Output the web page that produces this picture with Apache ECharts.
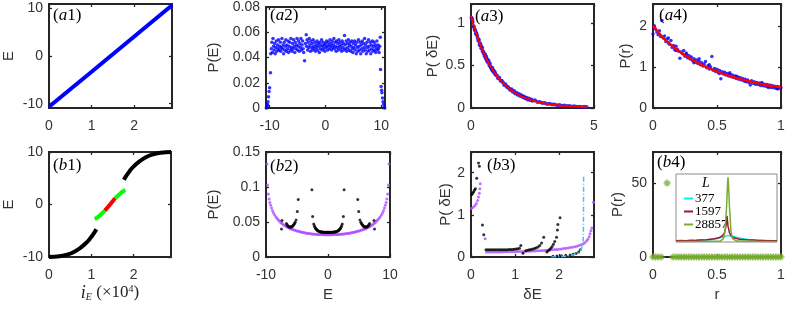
<!DOCTYPE html>
<html><head><meta charset="utf-8">
<script src="https://cdn.jsdelivr.net/npm/echarts@6/dist/echarts.min.js"></script>
<style>html,body{margin:0;padding:0;background:#fff}#c{width:788px;height:312px}</style>
</head><body><div id="c"></div><script>
// ---------- tick labels ----------
const a1XTicks=[0,1,2], a1YTicks=[-10,0,10];
const a2XTicks=[-10,0,10], a2YTicks=[0,0.02,0.04,0.06,0.08];
const a3XTicks=[0,5], a3YTicks=[0,0.5,1];
const a4XTicks=[0,0.5,1], a4YTicks=[0,1,2];
const b1XTicks=[0,1,2], b1YTicks=[-10,0,10];
const b2XTicks=[-10,0,10], b2YTicks=[0,0.05,0.1,0.15];
const b3XTicks=[0,1,2], b3YTicks=[0,1,2];
const b4XTicks=[0,0.5,1], b4YTicks=[0,50];
const insetLegend=['377','1597','28857'];

// ---------- data ----------
const a1Line=[[0,-10.65],[1.0,-3.3],[2.0,4.1],[2.8857,10.65]];
const a2Points=[[-10.6,0.000],[-10.5,0.001],[-10.45,0.002],[-10.4,0.003],[-10.3,0.005],[-10.2,0.009],[-10.1,0.013],[-10.0,0.016],[-9.85,0.028],[-9.8,0.043],[-9.7,0.047],[-9.6,0.052],[-9.5,0.044],[-9.4,0.055],[-9.3,0.049],[-9.2,0.046],[-9.1,0.051],[-9.0,0.043],[-8.9,0.048],[-8.8,0.053],[-8.7,0.045],[-8.6,0.050],[-8.5,0.047],[-8.4,0.054],[-8.3,0.046],[-8.2,0.049],[-8.1,0.052],[-8.0,0.045],[-7.9,0.048],[-7.8,0.055],[-7.7,0.047],[-7.6,0.050],[-7.5,0.043],[-7.4,0.052],[-7.3,0.046],[-7.2,0.049],[-7.1,0.054],[-7.0,0.045],[-6.9,0.050],[-6.8,0.047],[-6.7,0.053],[-6.6,0.044],[-6.5,0.049],[-6.4,0.052],[-6.3,0.046],[-6.2,0.055],[-6.1,0.048],[-6.0,0.045],[-5.9,0.051],[-5.8,0.047],[-5.7,0.054],[-5.6,0.049],[-5.5,0.044],[-5.4,0.052],[-5.3,0.047],[-5.2,0.050],[-5.1,0.055],[-5.0,0.046],[-4.9,0.049],[-4.8,0.053],[-4.7,0.045],[-4.6,0.051],[-4.5,0.048],[-4.4,0.055],[-4.3,0.046],[-4.2,0.050],[-4.1,0.053],[-4.0,0.047],[-3.9,0.044],[-3.75,0.0375],[-3.6,0.051],[-3.45,0.058],[-3.4,0.049],[-3.3,0.054],[-3.2,0.046],[-3.1,0.052],[-3.0,0.048],[-2.9,0.055],[-2.8,0.050],[-2.7,0.045],[-2.6,0.053],[-2.5,0.048],[-2.4,0.051],[-2.3,0.046],[-2.2,0.054],[-2.1,0.049],[-2.0,0.047],[-1.9,0.052],[-1.8,0.045],[-1.7,0.050],[-1.6,0.048],[-1.5,0.053],[-1.4,0.046],[-1.3,0.051],[-1.2,0.049],[-1.1,0.044],[-1.0,0.052],[-0.9,0.047],[-0.8,0.050],[-0.7,0.054],[-0.6,0.046],[-0.5,0.049],[-0.4,0.052],[-0.3,0.047],[-0.2,0.050],[-0.1,0.045],[0.0,0.051],[0.1,0.048],[0.2,0.053],[0.3,0.049],[0.4,0.046],[0.5,0.052],[0.6,0.050],[0.7,0.047],[0.8,0.054],[0.9,0.049],[1.0,0.051],[1.1,0.046],[1.2,0.053],[1.3,0.048],[1.4,0.050],[1.5,0.055],[1.6,0.047],[1.7,0.052],[1.8,0.049],[1.9,0.045],[2.0,0.053],[2.1,0.048],[2.2,0.051],[2.3,0.046],[2.4,0.054],[2.5,0.049],[2.6,0.052],[2.7,0.047],[2.8,0.050],[2.9,0.045],[3.0,0.053],[3.1,0.048],[3.2,0.051],[3.3,0.046],[3.4,0.0575],[3.5,0.050],[3.6,0.047],[3.7,0.053],[3.8,0.045],[3.9,0.051],[4.0,0.048],[4.1,0.054],[4.2,0.046],[4.3,0.050],[4.4,0.052],[4.5,0.045],[4.6,0.049],[4.7,0.053],[4.8,0.047],[4.9,0.044],[5.0,0.051],[5.1,0.048],[5.2,0.053],[5.3,0.046],[5.4,0.050],[5.5,0.043],[5.6,0.052],[5.7,0.048],[5.8,0.045],[5.9,0.054],[6.0,0.049],[6.1,0.046],[6.2,0.052],[6.3,0.043],[6.4,0.050],[6.5,0.047],[6.6,0.053],[6.7,0.045],[6.8,0.051],[6.9,0.048],[7.0,0.055],[7.1,0.046],[7.2,0.050],[7.3,0.043],[7.4,0.052],[7.5,0.048],[7.6,0.045],[7.7,0.054],[7.8,0.049],[7.9,0.046],[8.0,0.052],[8.1,0.043],[8.2,0.050],[8.3,0.047],[8.4,0.053],[8.5,0.045],[8.6,0.049],[8.7,0.052],[8.8,0.046],[8.9,0.050],[9.0,0.044],[9.1,0.048],[9.2,0.053],[9.3,0.046],[9.4,0.050],[9.5,0.047],[9.6,0.044],[9.7,0.049],[9.8,0.056],[9.85,0.0305],[9.95,0.017],[10.05,0.014],[10.1,0.012],[10.2,0.008],[10.3,0.005],[10.4,0.003],[10.5,0.001],[10.6,0.000]];
const a3Points=[[0.02,1.06],[0.05,1.04],[0.07,1.01],[0.1,0.96],[0.12,0.95],[0.15,0.92],[0.17,0.91],[0.2,0.87],[0.22,0.88],[0.25,0.85],[0.27,0.82],[0.3,0.79],[0.32,0.80],[0.35,0.74],[0.37,0.76],[0.4,0.73],[0.42,0.70],[0.45,0.71],[0.47,0.67],[0.5,0.66],[0.52,0.64],[0.55,0.61],[0.57,0.63],[0.6,0.58],[0.62,0.60],[0.65,0.55],[0.67,0.57],[0.7,0.53],[0.72,0.55],[0.75,0.50],[0.77,0.52],[0.8,0.48],[0.82,0.47],[0.85,0.45],[0.87,0.47],[0.9,0.43],[0.92,0.44],[0.95,0.41],[0.97,0.42],[1.0,0.39],[1.05,0.38],[1.1,0.35],[1.15,0.355],[1.2,0.32],[1.25,0.32],[1.3,0.30],[1.35,0.27],[1.4,0.28],[1.45,0.25],[1.5,0.245],[1.55,0.23],[1.6,0.21],[1.65,0.22],[1.7,0.19],[1.75,0.2],[1.8,0.17],[1.85,0.18],[1.9,0.155],[1.95,0.165],[2.0,0.14],[2.05,0.15],[2.1,0.13],[2.15,0.135],[2.2,0.115],[2.25,0.12],[2.3,0.10],[2.35,0.11],[2.4,0.095],[2.45,0.10],[2.5,0.085],[2.6,0.09],[2.7,0.07],[2.8,0.07],[2.9,0.058],[3.0,0.06],[3.1,0.048],[3.2,0.05],[3.3,0.04],[3.4,0.042],[3.5,0.032],[3.6,0.036],[3.7,0.026],[3.8,0.03],[3.9,0.022],[4.0,0.024],[4.1,0.018],[4.2,0.02],[4.3,0.014],[4.4,0.016],[4.5,0.012],[4.6,0.014],[4.7,0.011]];
const a3Fit=[[0,1.08],[0.25,0.84],[0.5,0.655],[0.75,0.51],[1,0.397],[1.25,0.31],[1.5,0.241],[1.75,0.188],[2,0.146],[2.25,0.114],[2.5,0.089],[2.75,0.069],[3,0.054],[3.5,0.033],[4,0.02],[4.5,0.012],[4.75,0.009]];
const a4Points=[[0.0,1.80],[0.005,1.95],[0.01,2.0],[0.02,1.92],[0.03,1.85],[0.04,1.78],[0.05,1.88],[0.06,1.74],[0.07,2.13],[0.08,1.70],[0.09,1.75],[0.10,1.62],[0.11,1.68],[0.12,1.58],[0.12,1.70],[0.13,1.55],[0.14,1.64],[0.15,1.47],[0.16,1.52],[0.17,1.42],[0.18,1.50],[0.18,1.40],[0.19,1.43],[0.20,1.38],[0.21,1.21],[0.22,1.36],[0.23,1.32],[0.24,1.40],[0.25,1.26],[0.26,1.30],[0.26,1.34],[0.27,1.22],[0.28,1.28],[0.29,1.19],[0.30,1.24],[0.31,1.15],[0.32,1.20],[0.32,1.10],[0.33,1.12],[0.34,1.17],[0.35,1.08],[0.36,1.14],[0.36,1.20],[0.37,1.05],[0.38,1.10],[0.39,1.02],[0.40,1.07],[0.41,1.13],[0.42,0.98],[0.43,1.03],[0.44,0.95],[0.44,1.05],[0.45,1.00],[0.46,1.25],[0.47,0.92],[0.48,0.96],[0.49,0.89],[0.50,0.94],[0.51,0.86],[0.52,0.91],[0.52,0.84],[0.53,0.71],[0.54,0.88],[0.55,0.83],[0.56,0.87],[0.57,0.80],[0.58,0.84],[0.59,0.78],[0.60,0.82],[0.60,0.86],[0.61,0.76],[0.62,0.80],[0.63,0.74],[0.64,0.78],[0.65,0.72],[0.65,0.77],[0.66,0.76],[0.67,0.70],[0.68,0.74],[0.69,0.68],[0.70,0.72],[0.71,0.66],[0.72,0.70],[0.72,0.65],[0.73,0.64],[0.74,0.68],[0.75,0.62],[0.76,0.56],[0.77,0.66],[0.78,0.60],[0.79,0.64],[0.80,0.58],[0.81,0.62],[0.82,0.57],[0.83,0.61],[0.84,0.55],[0.85,0.59],[0.85,0.62],[0.86,0.54],[0.87,0.58],[0.88,0.53],[0.89,0.57],[0.90,0.52],[0.90,0.50],[0.91,0.56],[0.92,0.50],[0.93,0.55],[0.94,0.49],[0.95,0.53],[0.96,0.48],[0.97,0.52],[0.97,0.47],[0.98,0.47],[0.99,0.51],[1.0,0.49]];
const a4Fit=[[0,2.0],[0.05,1.81],[0.1,1.65],[0.15,1.51],[0.2,1.39],[0.25,1.28],[0.3,1.18],[0.35,1.10],[0.4,1.02],[0.45,0.95],[0.5,0.89],[0.55,0.83],[0.6,0.78],[0.65,0.73],[0.7,0.69],[0.75,0.65],[0.8,0.62],[0.85,0.58],[0.9,0.55],[0.95,0.53],[1.0,0.5]];
const b1BlackLow=[[0,-10],[0.25,-9.85],[0.45,-9.5],[0.6,-9.0],[0.75,-8.2],[0.88,-7.3],[0.98,-6.4],[1.06,-5.5],[1.12,-4.7]];
const b1GreenLow=[[1.08,-2.75],[1.14,-2.5],[1.2,-2.1],[1.26,-1.65],[1.32,-1.15]];
const b1Red=[[1.32,-1.15],[1.38,-0.62],[1.443,0],[1.506,0.62],[1.566,1.15]];
const b1GreenHigh=[[1.566,1.15],[1.626,1.65],[1.686,2.1],[1.746,2.5],[1.806,2.75]];
const b1BlackHigh=[[1.77,4.7],[1.83,5.5],[1.91,6.4],[2.01,7.3],[2.14,8.2],[2.29,9.0],[2.44,9.5],[2.64,9.85],[2.8857,10]];
const b2Purple=[[-9.84,0.133],[-9.76,0.103],[-9.62,0.090],[-9.5,0.083],[-9.38,0.078],[-9.25,0.074],[-9.1,0.070],[-8.95,0.066],[-8.8,0.063],[-8.6,0.060],[-8.4,0.057],[-8.2,0.055],[-8.0,0.053],[-7.8,0.051],[-7.6,0.049],[-7.4,0.048],[-7.2,0.046],[-7.0,0.045],[-6.8,0.044],[-6.6,0.043],[-6.4,0.042],[-6.2,0.041],[-6.0,0.040],[-5.8,0.0395],[-5.6,0.039],[-5.4,0.0385],[-5.2,0.038],[-5.0,0.0373],[-4.8,0.0368],[-4.6,0.0363],[-4.4,0.0358],[-4.2,0.0354],[-4.0,0.035],[-3.8,0.0346],[-3.6,0.0343],[-3.4,0.034],[-3.2,0.0337],[-3.0,0.0334],[-2.8,0.0332],[-2.6,0.033],[-2.4,0.0328],[-2.2,0.0326],[-2.0,0.0325],[-1.8,0.0324],[-1.6,0.0323],[-1.4,0.0322],[-1.2,0.0321],[-1.0,0.032],[-0.8,0.032],[-0.6,0.0319],[-0.4,0.0319],[-0.2,0.0319],[0,0.0319],[0.2,0.0319],[0.4,0.0319],[0.6,0.0319],[0.8,0.032],[1.0,0.032],[1.2,0.0321],[1.4,0.0322],[1.6,0.0323],[1.8,0.0324],[2.0,0.0325],[2.2,0.0326],[2.4,0.0328],[2.6,0.033],[2.8,0.0332],[3.0,0.0334],[3.2,0.0337],[3.4,0.034],[3.6,0.0343],[3.8,0.0346],[4.0,0.035],[4.2,0.0354],[4.4,0.0358],[4.6,0.0363],[4.8,0.0368],[5.0,0.0373],[5.2,0.038],[5.4,0.0385],[5.6,0.039],[5.8,0.0395],[6.0,0.040],[6.2,0.041],[6.4,0.042],[6.6,0.043],[6.8,0.044],[7.0,0.045],[7.2,0.046],[7.4,0.048],[7.6,0.049],[7.8,0.051],[8.0,0.053],[8.2,0.055],[8.4,0.057],[8.6,0.060],[8.8,0.063],[8.95,0.066],[9.1,0.070],[9.25,0.074],[9.38,0.078],[9.5,0.083],[9.62,0.090],[9.76,0.103],[9.84,0.133]];
const b2Black=[[-7.5,0.040],[-7.42,0.052],[-6.7,0.048],[-6.6,0.046],[-6.5,0.0447],[-6.4,0.0438],[-6.3,0.0432],[-6.2,0.0428],[-6.1,0.0427],[-6.0,0.0428],[-5.9,0.0432],[-5.8,0.0437],[-5.7,0.0444],[-5.6,0.0453],[-5.5,0.0465],[-5.4,0.048],[-5.3,0.0497],[-5.15,0.053],[-4.95,0.065],[-4.8,0.082],[-2.6,0.096],[-2.48,0.058],[-2.3,0.047],[-2.2,0.0445],[-2.1,0.0425],[-2.0,0.041],[-1.9,0.0398],[-1.8,0.0388],[-1.7,0.038],[-1.6,0.0374],[-1.5,0.0369],[-1.4,0.0365],[-1.3,0.0362],[-1.2,0.036],[-1.1,0.0358],[-1.0,0.0357],[-0.9,0.0356],[-0.8,0.0355],[-0.7,0.0355],[-0.6,0.0354],[-0.5,0.0354],[-0.4,0.0354],[-0.3,0.0354],[-0.2,0.0354],[-0.1,0.0354],[0,0.0354],[0.1,0.0354],[0.2,0.0354],[0.3,0.0354],[0.4,0.0354],[0.5,0.0354],[0.6,0.0354],[0.7,0.0355],[0.8,0.0355],[0.9,0.0356],[1.0,0.0357],[1.1,0.0358],[1.2,0.036],[1.3,0.0362],[1.4,0.0365],[1.5,0.0369],[1.6,0.0374],[1.7,0.038],[1.8,0.0388],[1.9,0.0398],[2.0,0.041],[2.1,0.0425],[2.2,0.0445],[2.3,0.047],[2.48,0.058],[2.6,0.096],[4.8,0.082],[4.95,0.065],[5.15,0.053],[5.3,0.0497],[5.4,0.048],[5.5,0.0465],[5.6,0.0453],[5.7,0.0444],[5.8,0.0437],[5.9,0.0432],[6.0,0.0428],[6.1,0.0427],[6.2,0.0428],[6.3,0.0432],[6.4,0.0438],[6.5,0.0447],[6.6,0.046],[6.7,0.048],[7.42,0.052],[7.5,0.040]];
const b3Black=[[0.02,1.48],[0.04,1.52],[0.06,1.55],[0.08,1.59],[0.10,1.62],[0.13,1.87],[0.17,2.23],[0.19,2.15],[0.26,0.76],[0.29,0.53],[0.34,0.17],[0.38,0.17],[0.42,0.17],[0.46,0.17],[0.5,0.17],[0.54,0.17],[0.58,0.17],[0.62,0.17],[0.66,0.17],[0.7,0.17],[0.74,0.172],[0.78,0.172],[0.82,0.174],[0.86,0.175],[0.9,0.177],[0.94,0.18],[0.98,0.183],[1.02,0.188],[1.06,0.195],[1.1,0.21],[1.13,0.27],[1.18,0.09],[1.24,0.15],[1.28,0.16],[1.32,0.17],[1.36,0.18],[1.4,0.19],[1.44,0.2],[1.48,0.22],[1.52,0.24],[1.56,0.27],[1.6,0.33],[1.65,0.47],[1.72,0.12],[1.75,0.15],[1.78,0.18],[1.81,0.21],[1.84,0.25],[1.87,0.3],[1.9,0.37],[1.94,0.47],[1.96,0.64],[1.97,0.77],[2.02,0.93],[1.86,0.02],[1.95,0.025],[2.05,0.03],[2.15,0.04],[2.25,0.05],[2.32,0.065],[2.38,0.085],[2.44,0.12],[2.48,0.17]];
const b3Purple=[[0.01,1.15],[0.05,1.18],[0.09,1.22],[0.12,1.27],[0.15,1.34],[0.17,1.42],[0.19,1.51],[0.2,1.62],[0.21,1.74],[0.32,0.43],[0.35,0.12],[0.4,0.118],[0.45,0.118],[0.5,0.118],[0.55,0.119],[0.6,0.12],[0.65,0.12],[0.7,0.121],[0.75,0.122],[0.8,0.123],[0.85,0.124],[0.9,0.125],[0.95,0.126],[1.0,0.127],[1.05,0.128],[1.1,0.13],[1.15,0.131],[1.2,0.133],[1.25,0.135],[1.3,0.137],[1.35,0.139],[1.4,0.141],[1.45,0.143],[1.5,0.146],[1.55,0.149],[1.6,0.152],[1.65,0.155],[1.7,0.158],[1.75,0.162],[1.8,0.166],[1.85,0.17],[1.9,0.175],[1.95,0.18],[2.0,0.186],[2.05,0.192],[2.1,0.199],[2.15,0.206],[2.2,0.214],[2.25,0.223],[2.3,0.233],[2.35,0.244],[2.4,0.257],[2.45,0.272],[2.5,0.29],[2.54,0.31],[2.58,0.34],[2.62,0.38],[2.65,0.42],[2.68,0.48],[2.7,0.55],[2.72,0.62],[2.74,0.69],[2.78,1.3]];
const b3Cyan=[[1.82,0.0],[1.95,0.005],[2.05,0.01],[2.15,0.02],[2.25,0.035],[2.33,0.055],[2.4,0.085],[2.45,0.12],[2.5,0.18],[2.53,0.26],[2.545,0.4],[2.55,0.7],[2.552,1.2],[2.555,1.92]];
const b4Points=[[0,0],[0.02,0],[0.04,0],[0.065,0],[0.11,50],[0.155,0],[0.18,0],[0.2,0],[0.22,0],[0.24,0],[0.26,0],[0.28,0],[0.3,0],[0.32,0],[0.34,0],[0.36,0],[0.38,0],[0.4,0],[0.42,0],[0.44,0],[0.46,0],[0.48,0],[0.5,0],[0.52,0],[0.54,0],[0.56,0],[0.58,0],[0.6,0],[0.62,0],[0.64,0],[0.66,0],[0.68,0],[0.7,0],[0.72,0],[0.74,0],[0.76,0],[0.78,0],[0.8,0],[0.82,0],[0.84,0],[0.86,0],[0.88,0],[0.9,0],[0.92,0],[0.94,0],[0.96,0],[0.98,0],[1.0,0]];
const inset377=[[0.0,1.0],[0.05,1.5],[0.1,1.2],[0.15,1.8],[0.2,1.4],[0.25,2.0],[0.3,1.6],[0.35,2.2],[0.4,2.8],[0.43,3.5],[0.46,4.2],[0.49,5.0],[0.51,5.8],[0.53,5.5],[0.56,5.0],[0.6,4.2],[0.64,3.4],[0.68,2.6],[0.72,2.2],[0.78,1.8],[0.84,1.5],[0.9,1.3],[0.95,1.1],[1.0,1.0]];
const inset1597=[[0.0,1.0],[0.1,1.2],[0.2,1.5],[0.3,2.0],[0.38,2.8],[0.43,4.0],[0.46,5.5],[0.48,8],[0.495,14],[0.505,23],[0.515,14],[0.53,8],[0.55,5],[0.58,3.5],[0.63,2.5],[0.7,2.0],[0.8,1.5],[0.9,1.2],[1.0,1.0]];
const inset28857=[[0.0,0.5],[0.3,0.6],[0.44,0.8],[0.47,3],[0.485,9],[0.5,30],[0.51,50],[0.515,57],[0.52,50],[0.53,30],[0.545,9],[0.56,3],[0.6,0.8],[0.8,0.6],[1.0,0.5]];

// ---------- layout ----------
const FONT='Liberation Sans', SERIF='Liberation Serif', INK='#262626';
const panels=[
 {grid:[48,4,124,104], x:[0,2.8857], y:[-10.9,10.9], xt:a1XTicks, yt:a1YTicks, yName:'E', yGap:33},
 {grid:[266,4,119,104], x:[-10.65,10.65], y:[0,0.08], xt:a2XTicks, yt:a2YTicks, yName:'P(E)', yGap:45},
 {grid:[471,4,123,104], x:[0,5], y:[0,1.22], xt:a3XTicks, yt:a3YTicks, yName:'P( δE)', yGap:31},
 {grid:[653,4,128,104], x:[0,1], y:[0,2.53], xt:a4XTicks, yt:a4YTicks, yName:'P(r)', yGap:20},
 {grid:[48,152,123,105], x:[0,2.8857], y:[-10,10], xt:b1XTicks, yt:b1YTicks, yName:'E', yGap:33, xName:'{i|i}{s|E}{n| (×10}{p|4}{n|)}', xGap:27},
 {grid:[266,152,124,105], x:[-10,10], y:[0,0.15], xt:b2XTicks, yt:b2YTicks, yName:'P(E)', yGap:45, xName:'E', xGap:30},
 {grid:[471,152,123,105], x:[0,2.79], y:[0,2.49], xt:b3XTicks, yt:b3YTicks, yName:'P( δE)', yGap:18, xName:'δE', xGap:30},
 {grid:[653,152,128,105], x:[0,1], y:[0,71], xt:b4XTicks, yt:b4YTicks, yName:'P(r)', yGap:28, xName:'r', xGap:30}
];
const richName={
 i:{fontFamily:SERIF,fontStyle:'italic',fontSize:18,color:INK},
 s:{fontFamily:SERIF,fontStyle:'italic',fontSize:10,color:INK,verticalAlign:'bottom',padding:[8,0,0,0]},
 n:{fontFamily:SERIF,fontSize:17,color:INK},
 p:{fontFamily:SERIF,fontSize:10,color:INK,verticalAlign:'top',padding:[0,0,8,0]}
};
function axis(i,dim,p,mirror){
  const ticks=dim==='x'?p.xt:p.yt, range=dim==='x'?p.x:p.y;
  const a={type:'value',gridIndex:i,min:range[0],max:range[1],
    position:dim==='x'?(mirror?'top':'bottom'):(mirror?'right':'left'),
    axisLine:{show:false,onZero:false},splitLine:{show:false},
    axisTick:{show:true,inside:true,length:3,customValues:ticks,lineStyle:{color:INK,width:1.3}},
    axisLabel:{show:!mirror,customValues:ticks,margin:dim==='x'?11:6,color:'#333',fontSize:14,fontFamily:FONT,formatter:v=>String(v)}};
  const name=mirror?null:(dim==='x'?p.xName:p.yName);
  if(name){
    a.name=name;a.nameLocation='middle';a.nameGap=dim==='x'?p.xGap:p.yGap;
    if(dim==='y')a.nameRotate=90;
    a.nameTextStyle={fontFamily:FONT,fontSize:15,color:'#333',rich:richName};
  }
  return a;
}
const grids=[],xAxes=[],yAxes=[];
panels.forEach((p,i)=>{
  grids.push({left:p.grid[0],top:p.grid[1],width:p.grid[2],height:p.grid[3],show:true,borderColor:INK,borderWidth:2,backgroundColor:'transparent'});
  [false,true].forEach(m=>{xAxes.push(axis(i,'x',p,m));yAxes.push(axis(i,'y',p,m));});
});
// inset of (b4)
grids.push({left:676,top:174,width:101,height:68,show:true,borderColor:'#8c8c8c',borderWidth:1,backgroundColor:'#fff'});
xAxes.push({type:'value',gridIndex:8,min:0,max:1,show:false});
yAxes.push({type:'value',gridIndex:8,min:0,max:60,show:false});
const IN=16;

const BLUE='#0000ff',RED='#ff0000',PURPLE='#b04cff';
const C377='#00f0ff',C1597='#a2142f',C28857='#77ac30';
const asterisk='path://M5 0V10M0 5H10M1.6 1.6L8.4 8.4M1.6 8.4L8.4 1.6';
const series=[
 {type:'line',xAxisIndex:0,yAxisIndex:0,data:a1Line,symbol:'none',lineStyle:{color:BLUE,width:4}},
 {type:'scatter',xAxisIndex:2,yAxisIndex:2,data:a2Points,symbolSize:3.5,itemStyle:{color:BLUE}},
 {type:'scatter',xAxisIndex:4,yAxisIndex:4,data:a3Points,symbolSize:4,itemStyle:{color:BLUE}},
 {type:'line',xAxisIndex:4,yAxisIndex:4,data:a3Fit,symbol:'none',smooth:true,lineStyle:{color:RED,width:2}},
 {type:'scatter',xAxisIndex:6,yAxisIndex:6,data:a4Points,symbolSize:3.5,itemStyle:{color:BLUE}},
 {type:'line',xAxisIndex:6,yAxisIndex:6,data:a4Fit,symbol:'none',smooth:true,lineStyle:{color:RED,width:2.5}},
 {type:'line',xAxisIndex:8,yAxisIndex:8,data:b1BlackLow,symbol:'none',smooth:true,lineStyle:{color:'#000',width:4}},
 {type:'line',xAxisIndex:8,yAxisIndex:8,data:b1GreenLow,symbol:'none',smooth:true,lineStyle:{color:'#00ff00',width:4}},
 {type:'line',xAxisIndex:8,yAxisIndex:8,data:b1GreenHigh,symbol:'none',smooth:true,lineStyle:{color:'#00ff00',width:4}},
 {type:'line',xAxisIndex:8,yAxisIndex:8,data:b1Red,symbol:'none',smooth:true,lineStyle:{color:'#ff0000',width:4}},
 {type:'line',xAxisIndex:8,yAxisIndex:8,data:b1BlackHigh,symbol:'none',smooth:true,lineStyle:{color:'#000',width:4}},
 {type:'scatter',xAxisIndex:10,yAxisIndex:10,data:b2Purple,symbolSize:3,itemStyle:{color:PURPLE}},
 {type:'scatter',xAxisIndex:10,yAxisIndex:10,data:b2Black,symbolSize:3,itemStyle:{color:'#000'}},
 {type:'line',xAxisIndex:12,yAxisIndex:12,data:b3Cyan,symbol:'none',lineStyle:{color:'#4dbeee',width:1.5,type:[5,2,1,2]}},
 {type:'scatter',xAxisIndex:12,yAxisIndex:12,data:b3Purple,symbolSize:3,itemStyle:{color:PURPLE}},
 {type:'scatter',xAxisIndex:12,yAxisIndex:12,data:b3Black,symbolSize:3,itemStyle:{color:'#000'}},
 {type:'scatter',xAxisIndex:14,yAxisIndex:14,data:b4Points,symbol:asterisk,symbolSize:7,clip:false,z:5,itemStyle:{color:'#77ac30',borderColor:'#77ac30',borderWidth:1.4}},
 {name:insetLegend[0],type:'line',xAxisIndex:IN,yAxisIndex:IN,data:inset377,symbol:'none',itemStyle:{color:C377},lineStyle:{color:C377,width:1.5},z:6},
 {name:insetLegend[1],type:'line',xAxisIndex:IN,yAxisIndex:IN,data:inset1597,symbol:'none',itemStyle:{color:C1597},lineStyle:{color:C1597,width:1.5},z:6},
 {name:insetLegend[2],type:'line',xAxisIndex:IN,yAxisIndex:IN,data:inset28857,symbol:'none',itemStyle:{color:C28857},lineStyle:{color:C28857,width:1.5},z:6}
];
function panelLabel(letter,num,left,top){
  return {type:'text',left:left,top:top,z:10,style:{text:'{n|(}{i|'+letter+'}{n|'+num+')}',rich:{
    n:{fontFamily:SERIF,fontSize:17,fill:'#000'},i:{fontFamily:SERIF,fontStyle:'italic',fontSize:17,fill:'#000'}}}};
}
const option={
 animation:false,backgroundColor:'#fff',
 grid:grids,xAxis:xAxes,yAxis:yAxes,series:series,
 legend:{data:insetLegend,left:679,top:187,orient:'vertical',icon:'rect',itemWidth:9,itemHeight:2,itemGap:0,selectedMode:false,
   textStyle:{fontFamily:SERIF,fontSize:13,lineHeight:12.5,color:'#000',padding:[0,0,0,-3]}},
 graphic:[
  panelLabel('a',1,53,7),panelLabel('a',2,270,7),panelLabel('a',3,475,8),panelLabel('a',4,659,7),
  panelLabel('b',1,53,157),panelLabel('b',2,270,158),panelLabel('b',3,487,157),panelLabel('b',4,657,154),
  {type:'text',left:702,top:176,z:10,style:{text:'L',fontFamily:SERIF,fontStyle:'italic',fontSize:14,fill:'#000'}}
 ]
};
echarts.init(document.getElementById('c'),null,{renderer:'canvas'}).setOption(option);
</script></body></html>
